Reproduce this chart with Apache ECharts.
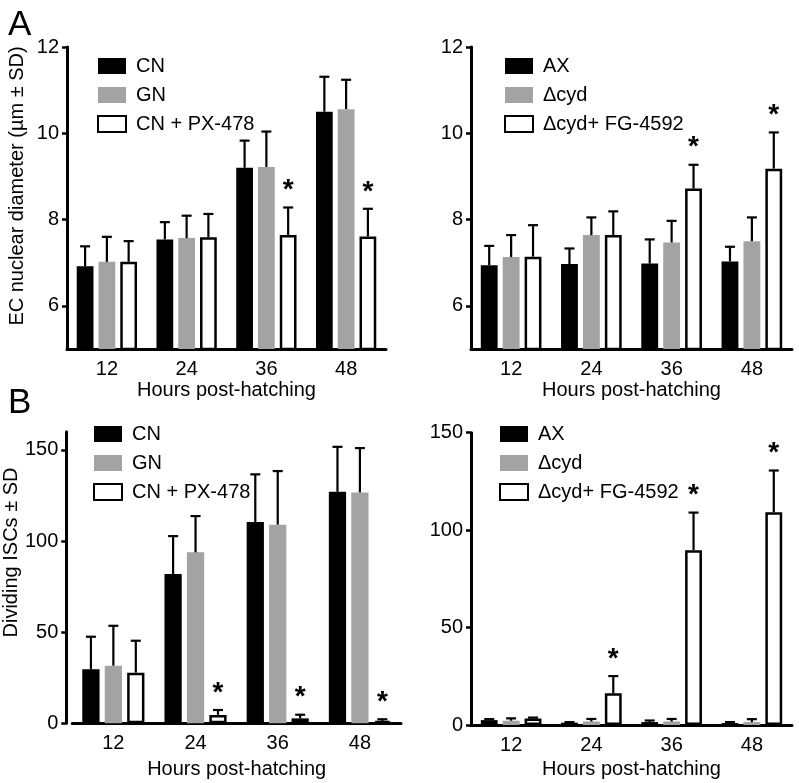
<!DOCTYPE html>
<html><head><meta charset="utf-8">
<script src="https://cdn.jsdelivr.net/npm/echarts@6/dist/echarts.min.js"></script>
<style>html,body{margin:0;padding:0;background:#fff}#c{width:799px;height:783px}</style>
</head><body><div id="c"></div>
<script>
// ---- data ----
const hours = ['12', '24', '36', '48'];
// Panel A left: EC nuclear diameter
const aCN = [6.92, 7.54, 9.20, 10.50];
const aCNsd = [0.46, 0.40, 0.63, 0.81];
const aGN = [7.02, 7.57, 9.22, 10.56];
const aGNsd = [0.58, 0.52, 0.82, 0.68];
const aPX = [7.02, 7.59, 7.64, 7.61];
const aPXsd = [0.48, 0.54, 0.64, 0.64];
const aPXstar = [false, false, true, true];
// Panel A right
const aAX = [6.94, 6.97, 6.98, 7.03];
const aAXsd = [0.45, 0.36, 0.56, 0.34];
const aCyd = [7.13, 7.64, 7.47, 7.50];
const aCydsd = [0.51, 0.41, 0.50, 0.55];
const aFG = [7.14, 7.64, 8.72, 9.18];
const aFGsd = [0.73, 0.55, 0.55, 0.84];
const aFGstar = [false, false, true, true];
// Panel B left: dividing ISCs
const bCN = [29.6, 81.9, 110.4, 127.0];
const bCNsd = [17.9, 20.8, 26.2, 24.7];
const bGN = [31.6, 93.8, 109.0, 126.7];
const bGNsd = [21.9, 19.9, 29.4, 24.3];
const bPX = [27.8, 4.6, 2.7, 1.3];
const bPXsd = [17.5, 2.7, 2.0, 0.9];
const bPXstar = [false, true, true, true];
// Panel B right
const bAX = [2.5, 1.2, 1.5, 1.0];
const bAXsd = [0.5, 0.3, 0.8, 0.5];
const bCyd = [2.2, 1.8, 1.8, 1.5];
const bCydsd = [1.2, 1.3, 1.3, 1.5];
const bFG = [3.3, 16.3, 89.7, 109.2];
const bFGsd = [0.5, 8.8, 19.3, 21.4];
const bFGstar = [false, true, true, true];
const yTicksA = [6, 8, 10, 12];
const yTicksBL = [0, 50, 100, 150];

// ---- styles ----
const FONT = 'Liberation Sans, Arial, Helvetica, sans-serif';
const BLACK = '#000000', GRAY = '#a3a3a3';
const BAR_FRAC = 0.21, GAP_FRAC = 0.30;
const styles = [
  { color: BLACK },
  { color: GRAY },
  { color: '#ffffff', borderColor: BLACK, borderWidth: 2.5 }
];

const chart = echarts.init(document.getElementById('c'));

const grids = [
  { left: 67, top: 47, width: 319, height: 302 },
  { left: 471, top: 47, width: 321, height: 302 },
  { left: 68, top: 431.7, width: 333, height: 291.6 },
  { left: 471, top: 432.7, width: 321, height: 292.3 }
];

function xAx(gi, gap) {
  return {
    type: 'category', gridIndex: gi, data: hours,
    name: 'Hours post-hatching', nameLocation: 'middle', nameGap: gap,
    nameTextStyle: { fontFamily: FONT, fontSize: 20, color: BLACK },
    axisLine: { lineStyle: { color: BLACK, width: 3 } },
    axisTick: { alignWithLabel: true, length: 6, lineStyle: { color: BLACK, width: 2.5 } },
    axisLabel: { fontFamily: FONT, fontSize: 20, color: BLACK, margin: 10 }
  };
}
function yAx(gi, min, max, ticks, name, shiftPad, nameGap, offset) {
  const o = {
    type: 'value', gridIndex: gi, min: min, max: max, offset: offset || 0,
    splitLine: { show: false },
    axisLine: { show: true, lineStyle: { color: BLACK, width: 3 } },
    axisTick: { show: true, length: 5, lineStyle: { color: BLACK, width: 2.5 }, customValues: ticks },
    axisLabel: { fontFamily: FONT, fontSize: 20, color: BLACK, margin: 8, customValues: ticks }
  };
  if (name) {
    o.name = name; o.nameLocation = 'middle'; o.nameGap = nameGap;
    o.nameTextStyle = { fontFamily: FONT, fontSize: 20, color: BLACK, padding: [0, 0, 0, shiftPad] };
  }
  return o;
}

const series = [];
function addGroup(gi, names, means, sds, stars) {
  for (let k = 0; k < 3; k++) {
    series.push({
      type: 'bar', name: names[k], xAxisIndex: gi, yAxisIndex: gi,
      data: means[k], barWidth: (BAR_FRAC * 100) + '%', barGap: (GAP_FRAC * 100) + '%',
      itemStyle: styles[k], emphasis: { disabled: true }, z: 2
    });
  }
  for (let k = 0; k < 3; k++) {
    const kk = k;
    const data = means[k].map((m, i) => [i, m, sds[k][i], (k === 2 && stars[i]) ? 1 : 0]);
    series.push({
      type: 'custom', xAxisIndex: gi, yAxisIndex: gi, z: 3, silent: true,
      data: data,
      renderItem: function (params, api) {
        const ci = api.value(0), m = api.value(1), sd = api.value(2), st = api.value(3);
        const base = api.coord([ci, m]);
        const top = api.coord([ci, m + sd]);
        const bw = api.size([1, 0])[0] * BAR_FRAC;
        const x = base[0] + (kk - 1) * bw * (1 + GAP_FRAC);
        const children = [
          { type: 'line', shape: { x1: x, y1: base[1], x2: x, y2: top[1] }, style: { stroke: BLACK, lineWidth: 2.2 } },
          { type: 'line', shape: { x1: x - 5, y1: top[1], x2: x + 5, y2: top[1] }, style: { stroke: BLACK, lineWidth: 2.2 } }
        ];
        if (st) {
          children.push({ type: 'text', style: { text: '*', x: x, y: top[1] - 17, align: 'center', verticalAlign: 'middle',
            font: 'bold 28px ' + FONT, fill: BLACK } });
        }
        return { type: 'group', children: children };
      }
    });
  }
}
addGroup(0, ['CN', 'GN', 'CN + PX-478'], [aCN, aGN, aPX], [aCNsd, aGNsd, aPXsd], aPXstar);
addGroup(1, ['AX', 'Δcyd', 'Δcyd+ FG-4592'], [aAX, aCyd, aFG], [aAXsd, aCydsd, aFGsd], aFGstar);
addGroup(2, ['CN', 'GN', 'CN + PX-478'], [bCN, bGN, bPX], [bCNsd, bGNsd, bPXsd], bPXstar);
addGroup(3, ['AX', 'Δcyd', 'Δcyd+ FG-4592'], [bAX, bCyd, bFG], [bAXsd, bCydsd, bFGsd], bFGstar);

function legend(names, left, top) {
  return {
    data: names, orient: 'vertical', left: left, top: top, itemWidth: 28, itemHeight: 16, itemGap: 9,
    icon: 'rect', selectedMode: false,
    textStyle: { fontFamily: FONT, fontSize: 20, color: BLACK, padding: [0, 0, 0, 5] }
  };
}

chart.setOption({
  animation: false,
  title: [
    { text: 'A', left: 3, top: 3, textStyle: { fontFamily: FONT, fontSize: 35, fontWeight: 'normal', color: BLACK } },
    { text: 'B', left: 3, top: 381, textStyle: { fontFamily: FONT, fontSize: 35, fontWeight: 'normal', color: BLACK } }
  ],
  legend: [
    legend(['CN', 'GN', 'CN + PX-478'], 92, 51),
    legend(['AX', 'Δcyd', 'Δcyd+ FG-4592'], 499, 51),
    legend(['CN', 'GN', 'CN + PX-478'], 88, 419),
    legend(['AX', 'Δcyd', 'Δcyd+ FG-4592'], 494, 419)
  ],
  grid: grids,
  xAxis: [xAx(0, 31), xAx(1, 31), xAx(2, 36), xAx(3, 34)],
  yAxis: [
    yAx(0, 5, 12, yTicksA, 'EC nuclear diameter (µm ± SD)', 24, 40),
    yAx(1, 5, 12, yTicksA),
    yAx(2, 0, 160, yTicksBL, 'Dividing ISCs ± SD', 50, 42, 6),
    yAx(3, 0, 150, yTicksBL)
  ],
  series: series
});
</script></body></html>
